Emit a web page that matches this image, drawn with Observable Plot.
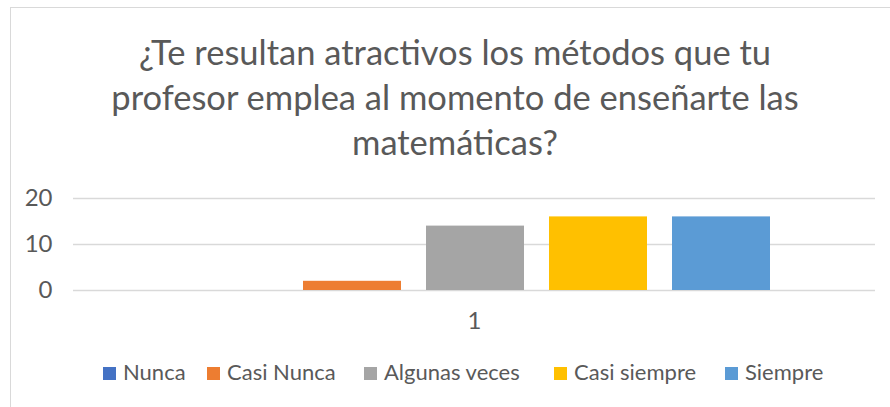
<!DOCTYPE html>
<html>
<head>
<meta charset="utf-8">
<script src="https://cdn.jsdelivr.net/npm/d3@7"></script>
<script src="https://cdn.jsdelivr.net/npm/@observablehq/plot@0.6"></script>
<style>
  body { margin: 0; background: #fff; width: 890px; height: 407px; overflow: hidden; position: relative; font-family: Lato, sans-serif; color: #595959; }
  #frame { position: absolute; left: 10px; top: 7px; width: 900px; height: 420px; border-left: 1.5px solid #d9d9d9; border-top: 1.5px solid #d9d9d9; }
  #title { position: absolute; left: 0; width: 910px; top: 29px; text-align: center; font-size: 34.5px; line-height: 45px; white-space: nowrap; }
  #chart { position: absolute; left: 0; top: 170px; }
  .item { position: absolute; top: 361px; font-size: 22px; line-height: 22px; white-space: nowrap; }
  .mk { display: inline-block; width: 13px; height: 13px; margin-right: 7px; vertical-align: baseline; }
</style>
</head>
<body>
<div id="frame"></div>
<div id="title"></div>
<div id="chart"></div>
<div id="legend"></div>
<script>
const titleLines = ["¿Te resultan atractivos los métodos que tu", "profesor emplea al momento de enseñarte las", "matemáticas?"];
const categories = ["Nunca", "Casi Nunca", "Algunas veces", "Casi siempre", "Siempre"];
const values = [0, 2, 14, 16, 16];
const colors = ["#4472C4", "#ED7D31", "#A5A5A5", "#FFC000", "#5B9BD5"];
const yTicks = [0, 10, 20];
const xLabel = ["1"];
const legendX = [103, 207, 364, 554, 725];

const title = document.getElementById("title");
titleLines.forEach((t, i) => { if (i) title.appendChild(document.createElement("br")); title.appendChild(document.createTextNode(t)); });

const data = categories.map((c, i) => ({cat: c, value: values[i]}));

const plot = Plot.plot({
  width: 890,
  height: 170,
  marginLeft: 73,
  marginRight: 15,
  marginTop: 28,
  marginBottom: 50,
  style: {fontFamily: "Lato, sans-serif", color: "#595959", background: "transparent"},
  x: {type: "band", domain: categories, range: [167.5, 782.5], paddingInner: 0.2, paddingOuter: 0.1, axis: null},
  y: {domain: [0, 20], ticks: yTicks, tickSize: 0, tickPadding: 21, label: null, tickFormat: d => String(d)},
  color: {domain: categories, range: colors},
  marks: [
    Plot.ruleY(yTicks, {stroke: "#d9d9d9", strokeWidth: 1.4}),
    Plot.barY(data, {x: "cat", y: "value", fill: "cat"}),
    Plot.axisY({ticks: yTicks, tickSize: 0, tickPadding: 21, fontSize: 24, fill: "#595959", label: null}),
    Plot.text(xLabel, {text: d => d, frameAnchor: "bottom", dy: 31, fontSize: 24, fill: "#595959", lineAnchor: "middle"})
  ]
});
document.getElementById("chart").appendChild(plot);

const legend = document.getElementById("legend");
categories.forEach((c, i) => {
  const it = document.createElement("div");
  it.className = "item";
  it.style.left = legendX[i] + "px";
  const mk = document.createElement("span");
  mk.className = "mk";
  mk.style.background = colors[i];
  it.appendChild(mk);
  it.appendChild(document.createTextNode(c));
  legend.appendChild(it);
});
</script>
</body>
</html>
